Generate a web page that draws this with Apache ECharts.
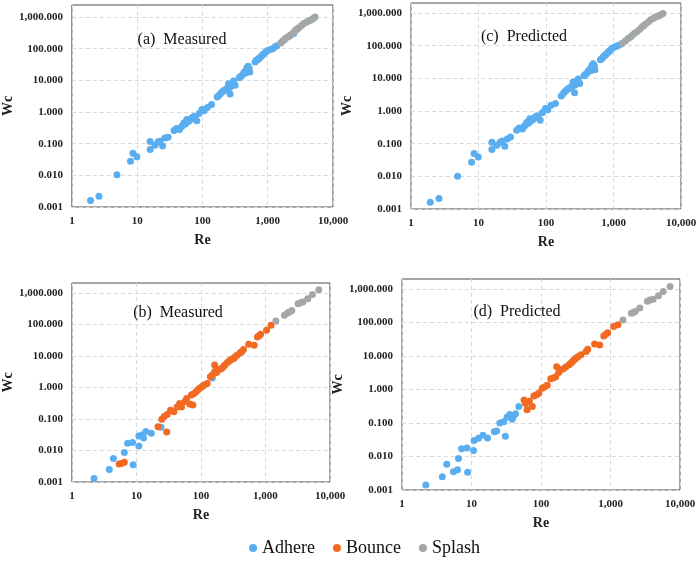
<!DOCTYPE html>
<html>
<head>
<meta charset="utf-8">
<script src="https://cdn.jsdelivr.net/npm/echarts@6/dist/echarts.min.js"></script>
<style>
  html, body { margin: 0; padding: 0; background: #fff; }
  #layout { width: 700px; height: 566px; }
</style>
</head>
<body>
<div id="layout"></div>
<script>
// tick labels, one per decade
const xTickLabels = ['1', '10', '100', '1,000', '10,000'];
const yTickLabels = ['0.001', '0.010', '0.100', '1.000', '10.000', '100.000', '1,000.000'];
const panelTitles = ['(a)  Measured', '(c)  Predicted', '(b)  Measured', '(d)  Predicted'];

// (a) measured  [Re, We]
const adhereA = [[1.93,0.0016],[2.6,0.0022],[4.9,0.0104],[7.9,0.028],[8.6,0.050],[9.9,0.039],
  [15.8,0.066],[15.8,0.117],[18.7,0.09],[21,0.115],[22.4,0.12],[24.5,0.085],[26.6,0.15],[29.8,0.16],
  [36.7,0.26],[40,0.30],[44.7,0.28],[48,0.35],[50,0.38],[52,0.45],[55,0.42],[57.5,0.58],[60,0.5],
  [63,0.53],[66,0.6],[70,0.67],[74,0.72],[77,0.63],[82,0.53],[89,0.90],[98,1.2],[106,1.1],[119,1.4],[138,1.74],
  [168,3.0],[178,3.3],[188,3.8],[200,4.3],[211,4.8],[225,5.0],[237,5.5],[251,7.8],[260,6],[265,3.7],[274,6.5],
  [285,7.5],[297,8.7],[300,9.5],[316,7.0],[366,12],[380,13],[398,14],[420,16],[437,18.5],[460,17],[473,21],
  [480,25],[500,28],[520,24],[530,18.5],[640,38],[670,43],[700,45],[730,48],[750,52],[780,55],[820,62],
  [850,66],[880,70],[940,80],[1000,88],[1100,95],[1190,100],[1300,115],[1380,125],[2500,300]];
const splashA = [[1580,150],[1700,175],[1800,190],[1880,212],[2050,240],[2150,250],[2240,270],[2450,320],
  [2660,380],[2800,410],[2990,460],[3300,540],[3550,620],[3900,690],[4200,750],[4500,790],[4700,830],
  [5000,900],[5300,1000]];

// (c) predicted
const adhereC = [[1.93,0.0016],[2.6,0.0021],[4.9,0.0100],[7.9,0.027],[8.6,0.050],[9.9,0.039],
  [15.8,0.066],[15.8,0.110],[18.7,0.09],[21,0.110],[22.4,0.12],[24.5,0.083],[26.6,0.14],[29.8,0.16],
  [36.7,0.26],[40,0.30],[44.7,0.28],[48,0.35],[50,0.38],[52,0.45],[55,0.42],[57.5,0.58],[60,0.5],
  [63,0.53],[66,0.6],[70,0.67],[74,0.72],[77,0.63],[82,0.52],[89,0.90],[98,1.2],[106,1.1],[119,1.5],[138,1.7],
  [168,2.9],[178,3.3],[188,3.8],[200,4.3],[211,4.8],[225,5.0],[237,5.5],[251,7.8],[260,6],[265,3.6],[274,6.5],
  [285,7.5],[297,8.7],[300,9.5],[316,7.0],[366,12],[380,13],[398,14],[420,16],[437,18.5],[460,17],[473,21],
  [480,25],[500,28],[520,24],[530,18.5],[640,37],[670,40],[700,45],[730,48],[750,52],[780,55],[820,62],
  [850,66],[880,70],[940,80],[1000,88],[1080,95],[1150,100],[1280,110]];
const splashC = [[1350,118],[1500,140],[1650,165],[1760,180],[1880,205],[2050,240],[2240,270],[2450,320],
  [2660,380],[2800,410],[2990,460],[3300,540],[3550,620],[3900,690],[4200,760],[4500,800],[4700,830],
  [5000,880],[5400,960]];

// (b) measured
const adhereB = [[2.2,0.0013],[3.8,0.0025],[4.4,0.0056],[6.5,0.0087],[7.3,0.017],[8.7,0.018],[8.9,0.0035],
  [10.9,0.014],[10.9,0.029],[12.2,0.031],[12.9,0.025],[14,0.040],[17,0.035],[24,0.055],[105,1.1],[150,2.0]];
const bounceB = [[5.4,0.0037],[5.8,0.0039],[6.5,0.0042],[21.6,0.057],[29.5,0.039],[24.7,0.098],[27,0.12],
  [30,0.14],[33.7,0.19],[38,0.17],[42.6,0.24],[46.6,0.31],[50,0.24],[56,0.35],[60,0.45],[67,0.30],
  [75,0.28],[71,0.58],[78,0.65],[84,0.74],[90,0.85],[95,0.95],[104,1.05],[112,1.2],[125,1.35],[140,2.2],
  [150,2.5],[163,3.2],[163,5.2],[175,3.0],[186,3.6],[200,3.9],[210,4.0],[222,4.6],[235,5.2],[255,6.1],
  [270,6.8],[287,7.5],[305,8.0],[322,8.3],[340,9.5],[362,10.6],[406,12.7],[430,14],[456,16],[550,23.5],
  [670,22],[750,40],[800,44],[840,49],[1040,66],[1220,95]];
const splashB = [[1450,130],[1970,196],[2200,230],[2350,250],[2560,280],[3200,460],[3500,490],[3800,520],
  [4530,660],[5350,900],[6700,1270]];

// (d) predicted
const adhereD = [[2.2,0.0014],[3.8,0.0025],[4.4,0.0059],[5.5,0.0035],[6.3,0.004],[6.5,0.0087],[7.2,0.017],
  [8.6,0.018],[8.8,0.0034],[10.7,0.015],[10.9,0.030],[12.6,0.035],[14.6,0.043],[17,0.036],[21.3,0.055],
  [23,0.058],[25.5,0.10],[30.7,0.040],[29,0.11],[32.5,0.15],[35.5,0.18],[38.5,0.13],[40,0.16],[43,0.19],
  [48,0.31]];
const bounceD = [[57,0.49],[60,0.38],[63,0.25],[68,0.45],[75,0.31],[79,0.64],[86,0.7],[93,0.78],[104,1.1],
  [112,1.2],[123,1.35],[138,2.1],[168,4.8],[150,2.2],[163,2.4],[180,3.2],[193,3.9],[210,4.2],[228,4.7],
  [254,5.5],[270,6.2],[284,6.9],[300,7.8],[318,8.6],[340,9.6],[375,10.9],[445,13.7],[470,16],[590,23],
  [700,21.5],[800,40],[850,44],[910,50],[1110,76],[1280,86]];
const splashD = [[1510,120],[2000,190],[2130,200],[2270,215],[2640,270],[3400,430],[3700,470],[4100,500],
  [4900,630],[5740,850],[7200,1200]];

const panels = [
  { adhere: adhereA, bounce: [], splash: splashA, grid: { left: 67, right: 367, top: 5, bottom: 359 }, yMax: 2400, title: [177, 35] },
  { adhere: adhereC, bounce: [], splash: splashC, grid: { left: 411, right: 19, top: 3, bottom: 357 }, yMax: 2030, title: [519, 32] },
  { adhere: adhereB, bounce: bounceB, splash: splashB, grid: { left: 60, right: 370, top: 283, bottom: 84 }, yMax: 2080, title: [173, 308] },
  { adhere: adhereD, bounce: bounceD, splash: splashD, grid: { left: 402, right: 20, top: 279, bottom: 76 }, yMax: 2000, title: [512, 307] }
];

const colors = { Adhere: '#5aaef0', Bounce: '#f26a21', Splash: '#a3a7a7' };
const serif = 'Liberation Serif';

function decadeLabel(v, labels, start) {
  const l = Math.log10(v);
  if (Math.abs(l - Math.round(l)) > 1e-6) return '';
  return labels[Math.round(l) - start] || '';
}

let myChart = echarts.init(document.getElementById('layout'));
let grids = [], xAxes = [], yAxes = [], series = [], titles = [];
panels.forEach(function (p, i) {
  grids.push(Object.assign({ show: true, borderColor: '#4d4d4d', borderWidth: 1, backgroundColor: '#fff' }, p.grid));
  xAxes.push({
    type: 'log', gridIndex: i, min: 1, max: 10000,
    name: 'Re', nameLocation: 'middle', nameGap: 26,
    nameTextStyle: { fontFamily: serif, fontWeight: 'bold', fontSize: 14, color: '#222' },
    axisLine: { show: false }, axisTick: { show: false },
    axisLabel: { fontFamily: serif, fontWeight: 'bold', fontSize: 11, color: '#222', margin: 9,
      formatter: function (v) { return decadeLabel(v, xTickLabels, 0); } },
    splitLine: { show: true, lineStyle: { color: '#d5dbe3', type: [4, 3] } }
  });
  yAxes.push({
    type: 'log', gridIndex: i, min: 0.001, max: p.yMax,
    name: 'Wc', nameLocation: 'middle', nameGap: 49, nameRotate: 90,
    nameTextStyle: { fontFamily: serif, fontWeight: 'bold', fontSize: 14, color: '#222' },
    axisLine: { show: false }, axisTick: { show: false },
    axisLabel: { fontFamily: serif, fontWeight: 'bold', fontSize: 11, color: '#222', margin: 9,
      formatter: function (v) { return decadeLabel(v, yTickLabels, -3); } },
    splitLine: { show: true, showMaxLine: false, lineStyle: { color: '#d5dbe3', type: [4, 3] } }
  });
  [['Adhere', p.adhere], ['Bounce', p.bounce], ['Splash', p.splash]].forEach(function (s) {
    series.push({
      type: 'scatter', name: s[0], xAxisIndex: i, yAxisIndex: i,
      data: s[1], symbolSize: 7, itemStyle: { color: colors[s[0]], opacity: 1 }
    });
  });
  titles.push({
    text: panelTitles[i], left: p.title[0], top: p.title[1], textAlign: 'center', textVerticalAlign: 'middle',
    textStyle: { fontFamily: serif, fontWeight: 'normal', fontSize: 16, color: '#111' }
  });
});

let option = {
  animation: false,
  title: titles,
  grid: grids,
  xAxis: xAxes,
  yAxis: yAxes,
  legend: {
    data: ['Adhere', 'Bounce', 'Splash'],
    bottom: 4, left: 244, icon: 'circle', itemWidth: 8, itemHeight: 8, itemGap: 18,
    textStyle: { fontFamily: serif, fontSize: 18, color: '#111' }
  },
  series: series
};
myChart.setOption(option);
</script>
</body>
</html>
